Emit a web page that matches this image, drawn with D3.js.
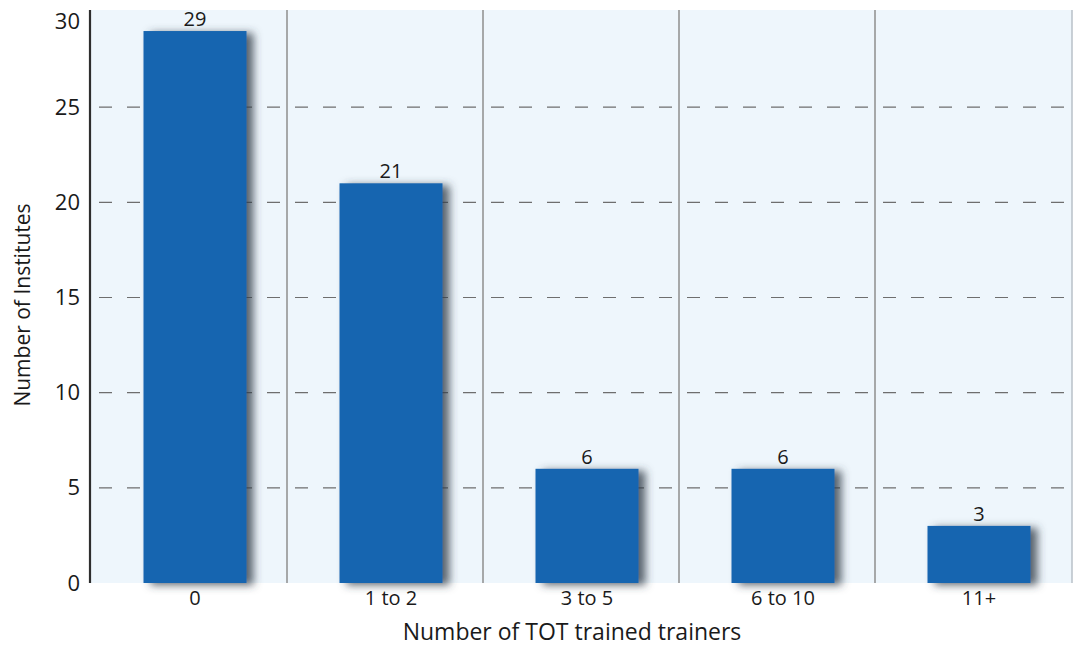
<!DOCTYPE html>
<html>
<head>
<meta charset="utf-8">
<script src="https://cdn.jsdelivr.net/npm/d3@7"></script>
<style>
  html, body { margin: 0; padding: 0; background: #ffffff; }
  svg { display: block; }
  text { font-family: "Open Sans", "Noto Sans", sans-serif; fill: #1a1a1a; }
</style>
</head>
<body>
<svg id="chart" width="1075" height="646"></svg>
<script>
// Institutes grouped by number of TOT-trained trainers
const categories = ["0", "1 to 2", "3 to 5", "6 to 10", "11+"];
const institutes = [29, 21, 6, 6, 3];
const yTicks = [0, 5, 10, 15, 20, 25, 30];
const xTitle = "Number of TOT trained trainers";
const yTitle = "Number of Institutes";

const W = 1075, H = 646;
const plot = { left: 90, right: 1072, top: 12, bottom: 583 };

const svg = d3.select("#chart");

const defs = svg.append("defs");
const shadow = defs.append("filter").attr("id", "barShadow")
  .attr("x", "-20%").attr("y", "-20%").attr("width", "150%").attr("height", "140%");
shadow.append("feDropShadow")
  .attr("dx", 7).attr("dy", 2).attr("stdDeviation", 4.5)
  .attr("flood-color", "#34404c").attr("flood-opacity", 0.8);

const axisShadow = defs.append("filter").attr("id", "axisShadow")
  .attr("x", "-5%").attr("y", "-200%").attr("width", "110%").attr("height", "600%");
axisShadow.append("feDropShadow")
  .attr("dx", 2).attr("dy", 3).attr("stdDeviation", 2.5)
  .attr("flood-color", "#555").attr("flood-opacity", 0.6);

const x = d3.scaleBand().domain(categories).range([plot.left + 1, plot.right - 1]);
const y = d3.scaleLinear().domain([0, 30]).range([plot.bottom, plot.top]);

// panel background
svg.append("rect")
  .attr("x", plot.left).attr("y", plot.top - 2)
  .attr("width", plot.right - plot.left).attr("height", plot.bottom - plot.top + 2)
  .attr("fill", "#eef6fc");

// right border of the panel
svg.append("line")
  .attr("x1", plot.right).attr("x2", plot.right)
  .attr("y1", plot.top - 2).attr("y2", plot.bottom)
  .attr("stroke", "#b8c0c8").attr("stroke-width", 1.5);

// dashed horizontal gridlines
svg.append("g").selectAll("line")
  .data(yTicks.filter(t => t > 0 && t < 30))
  .join("line")
  .attr("x1", plot.left + 1).attr("x2", plot.right)
  .attr("y1", d => y(d)).attr("y2", d => y(d))
  .attr("stroke", "#6e6e6e").attr("stroke-width", 1.2)
  .attr("stroke-dasharray", "13,15").attr("stroke-dashoffset", -8);

// vertical separators between categories
svg.append("g").selectAll("line")
  .data(categories.slice(1))
  .join("line")
  .attr("x1", d => x(d)).attr("x2", d => x(d))
  .attr("y1", plot.top - 2).attr("y2", plot.bottom)
  .attr("stroke", "#8e8e8e").attr("stroke-width", 1.5);

// bars
const barW = 103;
const barShift = 6;
const barX = d => x(d) + (x.bandwidth() - barW) / 2 + barShift;

svg.append("g").selectAll("rect")
  .data(categories)
  .join("rect")
  .attr("x", d => barX(d))
  .attr("y", (d, i) => y(institutes[i]))
  .attr("width", barW)
  .attr("height", (d, i) => y(0) - y(institutes[i]))
  .attr("fill", "#1565b0")
  .attr("filter", "url(#barShadow)");

// value labels
svg.append("g").selectAll("text")
  .data(categories)
  .join("text")
  .attr("x", d => barX(d) + barW / 2)
  .attr("y", (d, i) => y(institutes[i]) - 5)
  .attr("text-anchor", "middle")
  .attr("font-size", 20)
  .text((d, i) => institutes[i]);

// x axis line
svg.append("line")
  .attr("x1", plot.left - 1).attr("x2", plot.right)
  .attr("y1", plot.bottom).attr("y2", plot.bottom)
  .attr("stroke", "#2e2e2e").attr("stroke-width", 2.2)
  .attr("filter", "url(#axisShadow)");

// y axis
const yAxis = svg.append("g")
  .attr("transform", `translate(${plot.left},0)`)
  .call(d3.axisLeft(y).tickValues(yTicks).tickSize(0).tickPadding(10));
yAxis.select(".domain")
  .attr("d", `M0,${plot.top - 2}V${plot.bottom}`)
  .attr("stroke", "#2e2e2e").attr("stroke-width", 2.2);
yAxis.selectAll("text")
  .attr("font-size", 22)
  .attr("fill", "#1a1a1a")
  .attr("font-family", '"Open Sans", "Noto Sans", sans-serif')
  .attr("dy", d => d === 30 ? "0.75em" : "0.32em");

// x axis labels
const xAxis = svg.append("g")
  .attr("transform", `translate(${barShift},${plot.bottom})`)
  .call(d3.axisBottom(x).tickSize(0).tickPadding(8));
xAxis.select(".domain").remove();
xAxis.selectAll("text")
  .attr("font-size", 20)
  .attr("fill", "#1a1a1a")
  .attr("font-family", '"Open Sans", "Noto Sans", sans-serif');

// axis titles
svg.append("text")
  .attr("x", 572).attr("y", 640)
  .attr("text-anchor", "middle")
  .attr("font-size", 23)
  .text(xTitle);

svg.append("text")
  .attr("transform", "translate(30,305) rotate(-90)")
  .attr("text-anchor", "middle")
  .attr("font-size", 21)
  .text(yTitle);
</script>
</body>
</html>
